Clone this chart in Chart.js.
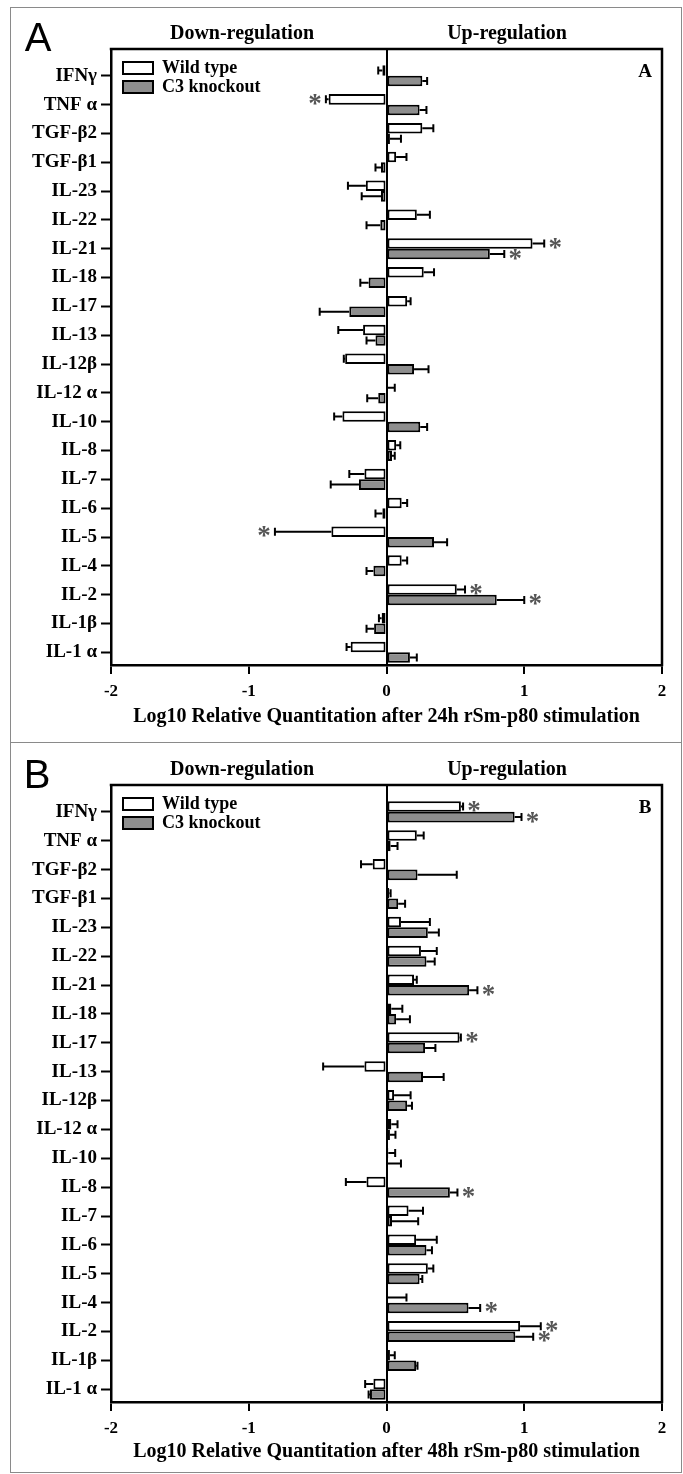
<!DOCTYPE html>
<html><head><meta charset="utf-8">
<script src="https://cdn.jsdelivr.net/npm/chart.js@4.4.1/dist/chart.umd.min.js"></script>
<style>
html,body{margin:0;padding:0;background:#fff;}
body{width:683px;height:1474px;position:relative;overflow:hidden;}
.panel{position:absolute;left:10px;width:672px;border:1px solid #8a8a8a;box-sizing:border-box;}
canvas{position:absolute;left:11px;}
.t{position:absolute;transform:translate(-50%,-50%);white-space:nowrap;color:#000;}
.hdr{font:bold 20px "Liberation Serif";}
.big{font:40px "Liberation Sans";line-height:40px;}
.inner{font:bold 19px "Liberation Serif";}
</style></head><body>
<div class="panel" style="top:7px;height:736px"></div>
<div class="panel" style="top:742px;height:731px"></div>
<canvas id="cA" width="670" height="733" style="top:8px"></canvas>
<canvas id="cB" width="670" height="731" style="top:743px"></canvas>
<div class="t big" style="left:38px;top:37px">A</div>
<div class="t hdr" style="left:242px;top:32px">Down-regulation</div>
<div class="t hdr" style="left:507px;top:32px">Up-regulation</div>
<div class="t inner" style="left:645px;top:71px">A</div>
<div class="t big" style="left:37px;top:774px">B</div>
<div class="t hdr" style="left:242px;top:768px">Down-regulation</div>
<div class="t hdr" style="left:507px;top:768px">Up-regulation</div>
<div class="t inner" style="left:645px;top:807px">B</div>
<script>
const categories = ['IFNγ','TNF α','TGF-β2','TGF-β1','IL-23','IL-22','IL-21','IL-18','IL-17','IL-13','IL-12β','IL-12 α','IL-10','IL-8','IL-7','IL-6','IL-5','IL-4','IL-2','IL-1β','IL-1 α'];
const seriesNames = ['Wild type','C3 knockout'];
const xTickValues = [-2,-1,0,1,2];
const xTickLabels = ['-2','-1','0','1','2'];

// 24h (panel A)
const wt24 = [-0.03,-0.42,0.26,0.07,-0.15,0.22,1.06,0.27,0.15,-0.17,-0.30,0.01,-0.32,0.07,-0.16,0.11,-0.40,0.11,0.51,-0.035,-0.26];
const wt24Err = [0.03,0.02,0.08,0.075,0.13,0.095,0.085,0.075,0.025,0.18,0.01,0.05,0.06,0.03,0.11,0.04,0.41,0.04,0.06,0.02,0.03];
const c3_24 = [0.26,0.24,0.025,-0.04,-0.04,-0.045,0.75,-0.13,-0.27,-0.08,0.20,-0.06,0.245,0.04,-0.20,-0.03,0.345,-0.095,0.80,-0.09,0.17];
const c3_24Err = [0.035,0.05,0.08,0.04,0.14,0.10,0.105,0.06,0.215,0.065,0.105,0.08,0.05,0.02,0.205,0.05,0.095,0.05,0.20,0.055,0.05];
const wt24Stars = ['TNF α','IL-21','IL-5','IL-2'];
const c3_24Stars = ['IL-21','IL-2'];

// 48h (panel B)
const wt48 = [0.54,0.22,-0.10,0.02,0.105,0.25,0.20,0.035,0.53,-0.16,0.055,0.035,0.013,-0.145,0.16,0.215,0.30,0.01,0.97,0.025,-0.095];
const wt48Err = [0.016,0.05,0.085,0.01,0.21,0.115,0.02,0.08,0.01,0.30,0.12,0.045,0.05,0.15,0.105,0.15,0.04,0.135,0.15,0.035,0.06];
const c3_48 = [0.93,0.03,0.225,0.085,0.30,0.29,0.60,0.07,0.28,0.265,0.15,0.025,0.005,0.46,0.04,0.29,0.24,0.595,0.935,0.215,-0.12];
const c3_48Err = [0.05,0.05,0.285,0.05,0.08,0.06,0.06,0.10,0.075,0.15,0.035,0.04,0.10,0.055,0.19,0.04,0.02,0.085,0.13,0.01,0.01];
const wt48Stars = ['IFNγ','IL-17','IL-2'];
const c3_48Stars = ['IFNγ','IL-21','IL-8','IL-4','IL-2'];

const titles = ['Log10 Relative Quantitation after 24h rSm-p80 stimulation','Log10 Relative Quantitation after 48h rSm-p80 stimulation'];

Chart.defaults.font.family = '"Liberation Serif", "Times New Roman", serif';
Chart.defaults.font.weight = 'bold';
Chart.defaults.color = '#000';

const errStars = {
  id: 'errStars',
  afterDatasetsDraw(chart) {
    const ctx = chart.ctx, xs = chart.scales.x;
    chart.data.datasets.forEach((ds, di) => {
      const meta = chart.getDatasetMeta(di);
      meta.data.forEach((bar, i) => {
        const v = ds.data[i], e = ds.errors[i], dir = v < 0 ? -1 : 1;
        const x0 = xs.getPixelForValue(v), x1 = xs.getPixelForValue(v + dir * e);
        const y = bar.y;
        ctx.save();
        ctx.strokeStyle = '#000'; ctx.lineWidth = 2;
        ctx.beginPath();
        ctx.moveTo(x0, y); ctx.lineTo(x1, y);
        ctx.moveTo(x1, y - 4); ctx.lineTo(x1, y + 4);
        ctx.stroke();
        if (ds.stars[i]) {
          ctx.fillStyle = '#555';
          ctx.font = 'bold 27px "Liberation Serif"';
          ctx.textAlign = 'center'; ctx.textBaseline = 'alphabetic';
          ctx.fillText('*', x1 + dir * 11, y + 12.5);
        }
        ctx.restore();
      });
    });
  }
};
const frame = {
  id: 'frame',
  afterDraw(chart) {
    const {ctx, chartArea: a} = chart;
    ctx.save(); ctx.strokeStyle = '#000'; ctx.lineWidth = 2.5;
    ctx.beginPath();
    ctx.moveTo(a.left - 1.25, a.top); ctx.lineTo(a.right, a.top); ctx.lineTo(a.right, a.bottom + 1.25);
    ctx.stroke(); ctx.restore();
  }
};
const legendShift = {
  id: 'legendShift',
  afterLayout(chart) {
    const l = chart.legend, pad = chart.options.plugins.legend.labels.padding;
    if (l) { l.left = chart.chartArea.left + 12 - pad; l.top = chart.chartArea.top + 10 - pad; }
  }
};

function makeChart(id, wt, wtErr, wtStars, c3, c3Err, c3Stars, title, g) {
  new Chart(document.getElementById(id), {
    type: 'bar',
    data: {
      labels: categories,
      datasets: [
        {label: seriesNames[0], data: wt, errors: wtErr, stars: categories.map(c => wtStars.includes(c)),
         backgroundColor: '#ffffff', borderColor: '#000', borderWidth: 2, borderSkipped: false,
         categoryPercentage: 0.73, barPercentage: 1.0},
        {label: seriesNames[1], data: c3, errors: c3Err, stars: categories.map(c => c3Stars.includes(c)),
         backgroundColor: '#8e8e8e', borderColor: '#000', borderWidth: 2, borderSkipped: false,
         categoryPercentage: 0.73, barPercentage: 1.0}
      ]
    },
    options: {
      indexAxis: 'y', responsive: false, animation: false, devicePixelRatio: 1,
      layout: {padding: {top: g.top, right: g.right, left: 0, bottom: 0}},
      scales: {
        x: {
          type: 'linear', min: -2, max: 2,
          afterFit: s => { s.height = g.xh; },
          afterBuildTicks: s => { s.ticks = xTickValues.map(v => ({value: v})); },
          ticks: {font: {size: 17, weight: 'bold'}, color: '#000', padding: 7, maxRotation: 0,
                  callback: (v) => xTickLabels[xTickValues.indexOf(v)]},
          grid: {display: true, drawOnChartArea: true, color: c => (c.tick && c.tick.value === 0) ? '#000' : 'rgba(0,0,0,0)',
                 lineWidth: 2, tickColor: '#000', tickLength: 9, tickWidth: 2},
          border: {display: true, color: '#000', width: 2.5},
          title: {display: true, text: title, font: {size: 20, weight: 'bold'}, color: '#000', padding: {top: 0, bottom: g.tp}}
        },
        y: {
          type: 'category',
          afterFit: s => { s.width = 100; },
          // extra room above the first category (legend space), as in the original figure
          afterBuildTicks: s => { s._startValue = -0.93; s._valueRange = categories.length + 0.37; },
          ticks: {font: {size: 19, weight: 'bold'}, color: '#000', padding: 4, autoSkip: false},
          grid: {display: true, drawOnChartArea: false, offset: false, tickLength: 10, tickColor: '#000', tickWidth: 2},
          border: {display: true, color: '#000', width: 2.5}
        }
      },
      plugins: {
        legend: {display: true, position: 'chartArea', align: 'start',
                 labels: {boxWidth: 30, boxHeight: 12, padding: 1, color: '#000', font: {size: 18, weight: 'bold'}}},
        tooltip: {enabled: false},
        title: {display: false}
      }
    },
    plugins: [errStars, frame, legendShift]
  });
}

makeChart('cA', wt24, wt24Err, wt24Stars, c3_24, c3_24Err, c3_24Stars, titles[0], {top: 41, right: 19, xh: 76, tp: 12});
makeChart('cB', wt48, wt48Err, wt48Stars, c3_48, c3_48Err, c3_48Stars, titles[1], {top: 42, right: 19, xh: 72, tp: 10});
</script>
</body></html>
